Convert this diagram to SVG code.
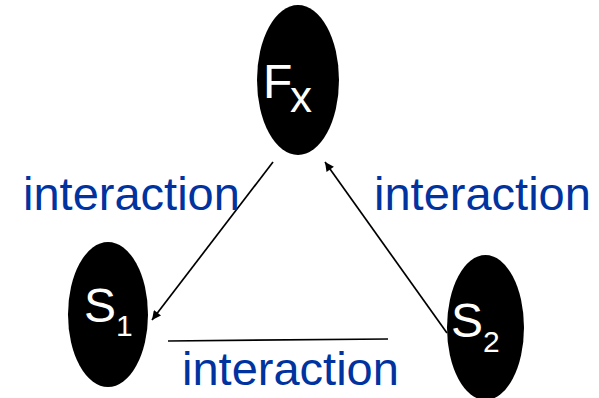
<svg xmlns="http://www.w3.org/2000/svg" width="599" height="398" viewBox="0 0 599 398">
<style>
.node{fill:#000}
.lbl{font-family:"Liberation Sans",Arial,sans-serif;fill:#fff}
.big{font-size:48px}
.sub{font-size:30px}
.edge{font-family:"Liberation Sans",Arial,sans-serif;font-size:47px;fill:#0033a0}
.ln{stroke:#000;stroke-width:1.7;fill:none}
</style>
<defs>
<marker id="arr" viewBox="0 0 10 10" refX="10" refY="5" markerWidth="11" markerHeight="9" markerUnits="userSpaceOnUse" orient="auto">
<path d="M0,0 L10,5 L0,10 z" fill="#000"/>
</marker>
</defs>
<rect width="599" height="398" fill="#fff"/>
<g id="connectors">
<line class="ln" x1="273" y1="162" x2="152" y2="320" marker-end="url(#arr)"/>
<line class="ln" x1="447" y1="333" x2="325" y2="162" marker-end="url(#arr)"/>
<line class="ln" x1="168" y1="341" x2="388" y2="339" stroke-width="2.4"/>
</g>
<g id="Fx">
<ellipse class="node" cx="298" cy="80" rx="41" ry="75"/>
<text class="lbl big" x="263" y="98">F</text>
<text class="lbl" x="290" y="112" font-size="44">x</text>
</g>
<g id="S1">
<ellipse class="node" cx="108" cy="314.5" rx="40" ry="72.5"/>
<text class="lbl big" x="84" y="322">S</text>
<text class="lbl sub" x="116" y="336">1</text>
</g>
<g id="S2">
<ellipse class="node" cx="485.5" cy="327.5" rx="38.5" ry="72.5"/>
<text class="lbl big" x="451" y="337">S</text>
<text class="lbl sub" x="483" y="352">2</text>
</g>
<g id="labels">
<text class="edge" x="23" y="210">interaction</text>
<text class="edge" x="374" y="210">interaction</text>
<text class="edge" x="182" y="385">interaction</text>
</g>
</svg>
